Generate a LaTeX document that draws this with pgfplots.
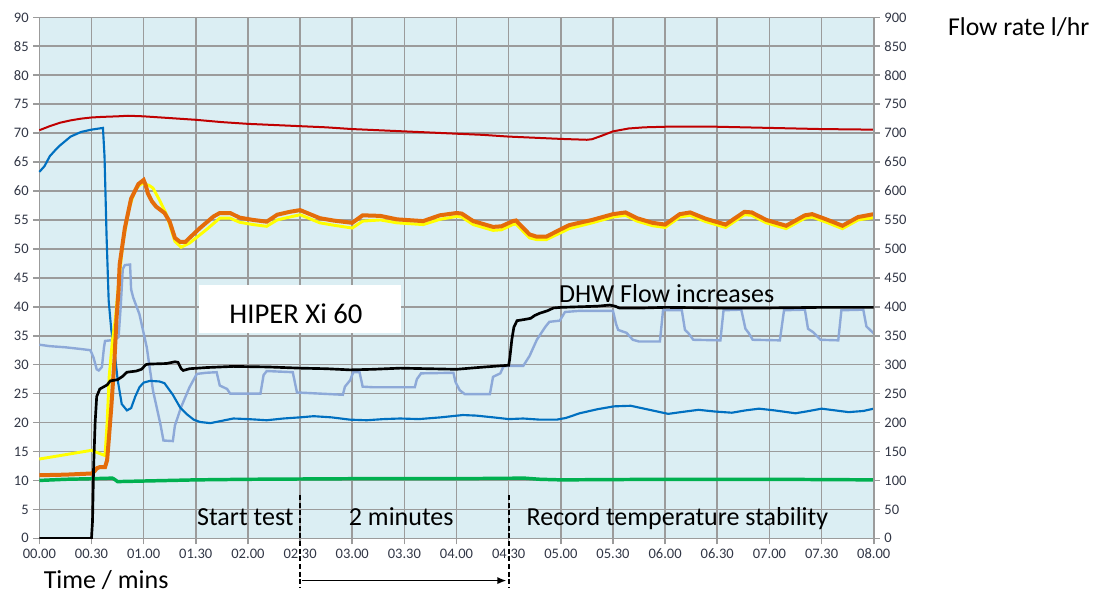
\documentclass[border=0pt]{standalone}
\usepackage{fontspec}
\setmainfont{Carlito}
\usepackage{pgfplots}
\pgfplotsset{compat=1.18}
\usetikzlibrary{arrows.meta}
\definecolor{bgblue}{RGB}{219,238,243}
\definecolor{gridgray}{RGB}{155,155,155}
\definecolor{ticktext}{RGB}{50,55,70}
\definecolor{cRed}{RGB}{192,0,0}
\definecolor{cBlue}{RGB}{0,112,192}
\definecolor{cOrange}{RGB}{228,108,10}
\definecolor{cYellow}{RGB}{255,255,0}
\definecolor{cLight}{RGB}{141,169,216}
\definecolor{cGreen}{RGB}{0,176,80}
\begin{document}
\begin{tikzpicture}
\useasboundingbox (-29.5pt,-41pt) rectangle (793.25pt,403.75pt);
\pgfplotsset{
  common/.style={
    at={(0,0)}, anchor=south west,
    scale only axis, width=625.8pt, height=390.75pt,
    xmin=0, xmax=8,
    tick align=outside,
    major tick length=4.5pt,
    tick style={gridgray, line width=1.2pt},
    axis line style={gridgray, line width=1.2pt},
    ticklabel style={font=\fontsize{10.9}{12}\selectfont, text=ticktext},
    /pgf/number format/assume math mode=true,
  }
}
\begin{axis}[common,
  ymin=0, ymax=90,
  ytick={0,5,...,90},
  xtick={0,0.5,...,8},
  xticklabels={00.00,00.30,01.00,01.30,02.00,02.30,03.00,03.30,04.00,04.30,05.00,05.30,06.00,06.30,07.00,07.30,08.00},
  tick pos=left,
  grid=major,
  major grid style={gridgray, line width=1.2pt},
  axis background/.style={fill=bgblue},
  clip=false,
]
% red
\addplot[cRed, line width=1.5pt] coordinates {
(0,70.5)(0.1,71.2)(0.2,71.8)(0.3,72.2)(0.4,72.5)(0.5,72.7)(0.6,72.8)(0.75,72.9)(0.85,73.0)(1.0,72.9)(1.25,72.6)(1.5,72.3)(1.75,71.9)(2.0,71.6)(2.25,71.4)(2.5,71.2)(2.75,71.0)(3.0,70.7)(3.25,70.5)(3.5,70.3)(3.75,70.1)(4.0,69.9)(4.25,69.7)(4.5,69.4)(4.75,69.2)(5.0,69.0)(5.25,68.85)(5.3,68.95)(5.4,69.6)(5.5,70.3)(5.65,70.8)(5.8,71.0)(6.0,71.1)(6.5,71.1)(7.0,70.9)(7.25,70.8)(7.5,70.7)(8.0,70.6)};
% light steel blue
\addplot[cLight, line width=1.8pt] coordinates {
(0,33.45)(0.1,33.2)(0.25,33.0)(0.4,32.7)(0.49,32.5)(0.52,31.2)(0.55,29.2)(0.57,29.0)(0.6,29.6)(0.62,33.0)(0.63,34.1)(0.73,34.3)(0.76,34.8)(0.78,40)(0.8,46.5)(0.82,47.2)(0.87,47.3)(0.88,43)(0.9,41.6)(0.96,38.7)(1.03,33)(1.09,25.5)(1.16,19.8)(1.19,16.9)(1.28,16.8)(1.3,19.5)(1.36,22.7)(1.44,26.1)(1.51,28.4)(1.6,28.6)(1.7,28.7)(1.73,26.4)(1.8,25.8)(1.83,25.0)(2.12,25.0)(2.15,28.2)(2.18,28.9)(2.43,28.7)(2.47,25.2)(2.91,24.8)(2.93,26.2)(2.98,27.3)(3.01,28.7)(3.07,28.7)(3.1,26.2)(3.2,26.1)(3.6,26.1)(3.62,27.5)(3.66,28.5)(3.97,28.6)(3.99,27.0)(4.03,25.6)(4.08,24.9)(4.32,24.9)(4.35,27.9)(4.42,28.5)(4.45,29.7)(4.51,29.8)(4.64,29.8)(4.7,31.5)(4.77,34.3)(4.85,36.5)(4.89,37.4)(4.99,37.6)(5.04,39.1)(5.18,39.3)(5.5,39.3)(5.53,37)(5.55,36.0)(5.63,35.5)(5.69,34.3)(5.75,34.0)(5.95,34.0)(5.98,39.4)(6.16,39.4)(6.19,36.0)(6.22,35.5)(6.27,34.3)(6.53,34.2)(6.56,39.4)(6.73,39.5)(6.77,36.2)(6.8,35.5)(6.84,34.3)(7.1,34.2)(7.14,39.4)(7.34,39.5)(7.37,36.2)(7.42,35.6)(7.49,34.3)(7.66,34.2)(7.69,39.4)(7.9,39.5)(7.93,36.6)(8.0,35.4)};
% blue
\addplot[cBlue, line width=1.6pt] coordinates {
(0,63.3)(0.05,64.3)(0.1,66.0)(0.15,67.0)(0.2,67.9)(0.3,69.4)(0.4,70.2)(0.5,70.6)(0.61,70.9)(0.625,66)(0.645,52)(0.665,41)(0.69,36)(0.72,32.5)(0.75,27.5)(0.79,23.2)(0.84,22.1)(0.88,22.5)(0.92,24.5)(0.96,26.1)(1.0,26.9)(1.06,27.2)(1.15,27.1)(1.2,26.8)(1.28,24.8)(1.35,22.6)(1.41,21.5)(1.48,20.5)(1.54,20.1)(1.64,19.9)(1.75,20.3)(1.86,20.7)(2.0,20.6)(2.18,20.4)(2.34,20.7)(2.5,20.9)(2.63,21.1)(2.8,20.9)(2.98,20.5)(3.14,20.4)(3.3,20.6)(3.46,20.7)(3.64,20.6)(3.85,20.9)(4.06,21.3)(4.19,21.2)(4.35,20.9)(4.5,20.6)(4.64,20.7)(4.8,20.5)(4.96,20.5)(5.05,20.8)(5.18,21.6)(5.35,22.3)(5.51,22.8)(5.67,22.9)(5.85,22.2)(6.03,21.5)(6.15,21.8)(6.32,22.2)(6.48,21.9)(6.64,21.7)(6.77,22.1)(6.9,22.4)(7.05,22.1)(7.25,21.6)(7.38,22.0)(7.5,22.4)(7.63,22.1)(7.76,21.8)(7.9,22.0)(8.0,22.4)};
% yellow
\addplot[cYellow, line width=2.2pt] coordinates {
(0,13.7)(0.5,15.2)(0.63,14.3)(0.65,20)(0.67,28)(0.7,34)(0.73,38)(0.76,44)(0.8,51)(0.86,57)(0.92,60.3)(0.98,61.3)(1.05,61)(1.09,60.5)(1.15,58.5)(1.22,55.9)(1.3,51.3)(1.36,50.3)(1.44,51.0)(1.6,53.3)(1.73,55.3)(1.83,55.3)(1.92,54.6)(2.05,54.2)(2.18,53.9)(2.28,55.0)(2.4,55.5)(2.5,55.9)(2.69,54.5)(2.82,54.1)(3.0,53.6)(3.1,54.8)(3.27,55.0)(3.43,54.5)(3.68,54.2)(3.84,55.1)(4.0,55.6)(4.05,55.5)(4.16,54.2)(4.35,53.2)(4.43,53.3)(4.54,54.2)(4.57,54.3)(4.7,51.9)(4.77,51.6)(4.86,51.6)(5.0,52.8)(5.08,53.5)(5.3,54.5)(5.5,55.5)(5.62,55.8)(5.73,54.8)(5.88,54.0)(6.0,53.7)(6.14,55.5)(6.24,55.8)(6.39,54.7)(6.58,53.7)(6.76,55.9)(6.83,55.8)(6.97,54.5)(7.16,53.5)(7.34,55.3)(7.41,55.5)(7.56,54.5)(7.7,53.5)(7.85,55.0)(8.0,55.4)};
% orange
\addplot[cOrange, line width=3pt] coordinates {
(0,10.9)(0.25,11.0)(0.5,11.2)(0.53,11.6)(0.55,12.1)(0.58,12.3)(0.63,12.3)(0.65,13.5)(0.67,18)(0.69,22.7)(0.72,30.7)(0.74,38)(0.76,43)(0.77,47.3)(0.82,53.6)(0.88,58.7)(0.95,61.2)(1.0,61.9)(1.02,61.0)(1.04,59.6)(1.08,58.2)(1.12,57.3)(1.2,56.2)(1.25,54.7)(1.3,51.9)(1.35,51.2)(1.4,51.2)(1.44,51.9)(1.54,53.6)(1.67,55.6)(1.73,56.2)(1.83,56.2)(1.92,55.4)(2.05,55.0)(2.18,54.7)(2.28,55.9)(2.4,56.4)(2.5,56.7)(2.69,55.3)(2.82,54.9)(3.0,54.5)(3.1,55.8)(3.27,55.7)(3.43,55.1)(3.68,54.8)(3.84,55.8)(4.0,56.2)(4.05,56.1)(4.16,54.8)(4.35,53.8)(4.43,53.9)(4.54,54.8)(4.57,54.9)(4.7,52.5)(4.77,52.1)(4.86,52.1)(5.0,53.4)(5.08,54.1)(5.15,54.4)(5.3,55.0)(5.5,56.0)(5.62,56.3)(5.73,55.3)(5.88,54.5)(6.0,54.2)(6.14,56.0)(6.24,56.3)(6.39,55.2)(6.58,54.2)(6.76,56.4)(6.83,56.3)(6.97,55.0)(7.16,54.0)(7.34,55.8)(7.41,56.0)(7.56,55.0)(7.7,54.0)(7.85,55.5)(8.0,56.0)};
% green
\addplot[cGreen, line width=2.6pt] coordinates {
(0,10.0)(0.25,10.2)(0.5,10.3)(0.7,10.4)(0.72,10.2)(0.75,9.8)(1.0,9.9)(1.5,10.1)(2.0,10.2)(3.0,10.3)(4.0,10.3)(4.65,10.4)(4.8,10.2)(5.0,10.1)(6.0,10.2)(7.0,10.2)(8.0,10.1)};
% annotations
\fill[white] (axis cs:1.53,35.5) rectangle (axis cs:3.47,43.8);
\node[font=\fontsize{21.5}{24}\selectfont, anchor=center, inner sep=0] at (axis cs:2.46,38.8) {HIPER Xi 60};
\node[font=\fontsize{19.5}{22}\selectfont, anchor=base west, inner sep=0] at (axis cs:4.98,40.7) {DHW Flow increases};
\node[font=\fontsize{19.5}{22}\selectfont, anchor=base east, inner sep=0] at (axis cs:2.44,2.3) {Start test};
\node[font=\fontsize{19.5}{22}\selectfont, anchor=base, inner sep=0] at (axis cs:3.47,2.3) {2 minutes};
\node[font=\fontsize{19.5}{22}\selectfont, anchor=base west, inner sep=0] at (axis cs:4.67,2.3) {Record temperature stability};
\draw[black, line width=1.35pt, dash pattern=on 3.75pt off 2pt] (axis cs:2.5,7.5) -- (axis cs:2.5,-8.6);
\draw[black, line width=1.35pt, dash pattern=on 3.75pt off 2pt] (axis cs:4.5,7.5) -- (axis cs:4.5,-8.6);
\draw[black, line width=1.35pt, -{Latex[length=7pt,width=5.5pt]}] (axis cs:2.52,-7.3) -- (axis cs:4.48,-7.3);
\node[font=\fontsize{19.5}{22}\selectfont, anchor=base west, inner sep=0] at (axis cs:0.04,-8.7) {Time / mins};
\node[font=\fontsize{19.3}{22}\selectfont, anchor=base west, inner sep=0] at (axis cs:8.71,86.8) {Flow rate l/hr};
\end{axis}
\begin{axis}[common,
  ymin=0, ymax=900,
  ytick={0,50,...,900},
  axis x line=none,
  axis y line*=right,
]
% black: DHW flow rate (l/hr)
\addplot[black, line width=2pt] coordinates {
(0,0)(0.5,0)(0.51,30)(0.52,120)(0.535,200)(0.55,245)(0.58,258)(0.62,262)(0.65,265)(0.68,272)(0.75,274)(0.8,280)(0.84,287)(0.93,289)(0.98,292)(1.02,300)(1.05,301)(1.22,302)(1.3,305)(1.33,304)(1.36,293)(1.38,290)(1.44,293)(1.6,295)(1.86,297)(2.2,296)(2.5,294)(2.75,293)(2.98,291)(3.2,292)(3.46,294)(4.0,292)(4.2,295)(4.42,298)(4.5,299)(4.51,310)(4.53,343)(4.55,365)(4.58,376)(4.65,378)(4.71,380)(4.75,385)(4.8,389)(4.87,393)(4.93,398)(5.0,399)(5.18,400)(5.35,401)(5.47,403)(5.52,401)(5.56,398)(5.8,398)(6.0,399)(6.5,398)(7.0,398)(7.5,399)(8.0,399)};
\end{axis}
\end{tikzpicture}
\end{document}
